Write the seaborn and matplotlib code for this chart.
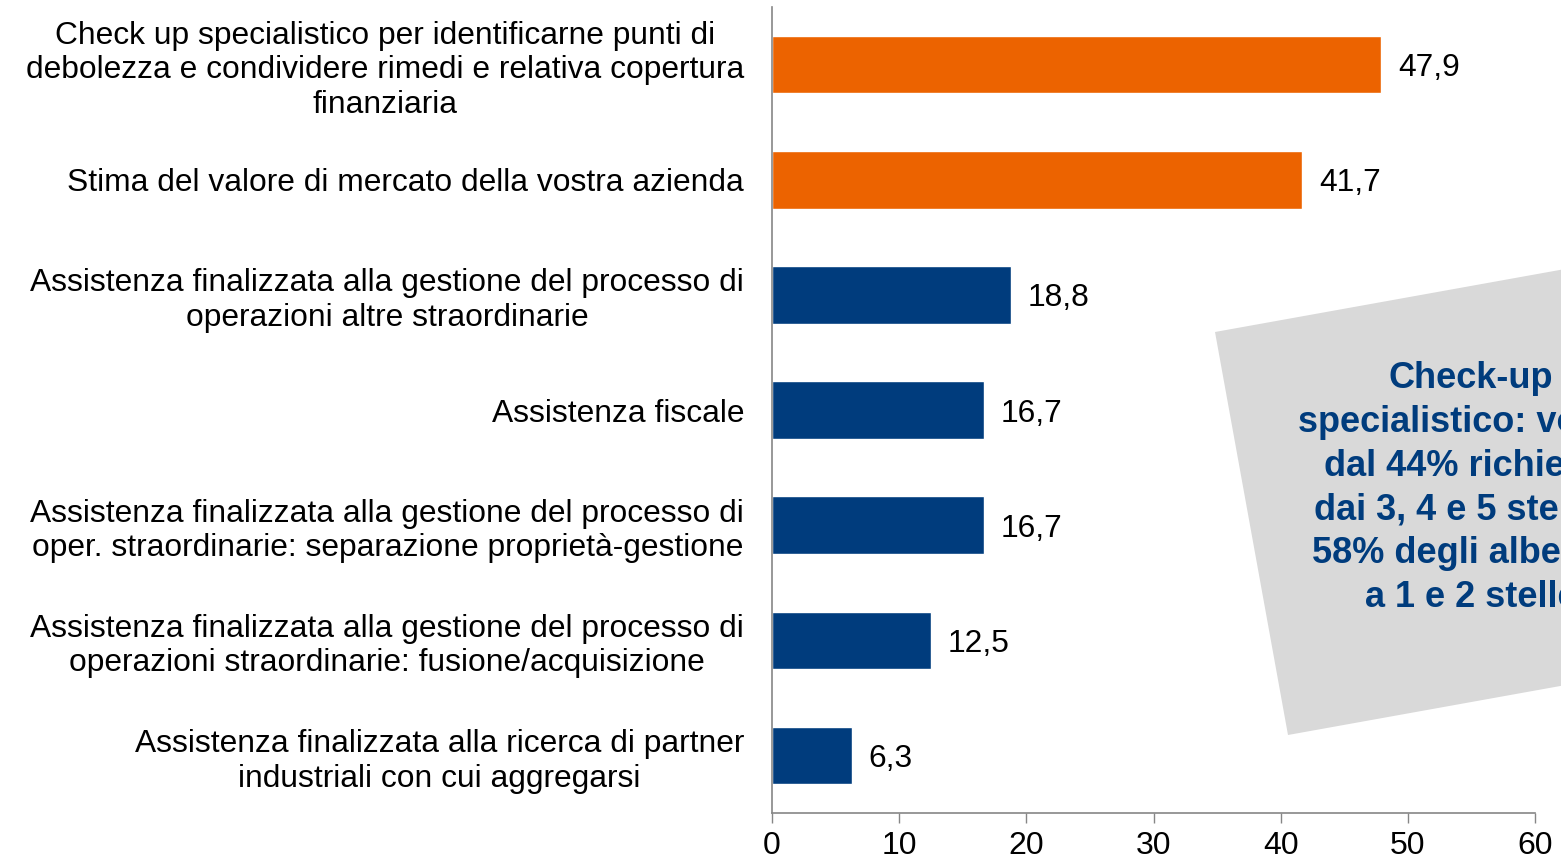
import matplotlib
matplotlib.use("Agg")
import matplotlib.pyplot as plt
import seaborn as sns
import pandas as pd
import numpy as np
from matplotlib.patches import Polygon

categories = [
    "Check up specialistico per identificarne punti di\ndebolezza e condividere rimedi e relativa copertura\nfinanziaria",
    "Stima del valore di mercato della vostra azienda",
    "Assistenza finalizzata alla gestione del processo di\noperazioni altre straordinarie",
    "Assistenza fiscale",
    "Assistenza finalizzata alla gestione del processo di\noper. straordinarie: separazione proprietà-gestione",
    "Assistenza finalizzata alla gestione del processo di\noperazioni straordinarie: fusione/acquisizione",
    "Assistenza finalizzata alla ricerca di partner\nindustriali con cui aggregarsi",
]
values = [47.9, 41.7, 18.8, 16.7, 16.7, 12.5, 6.3]
groups = ["top", "top", "other", "other", "other", "other", "other"]
value_labels = ["47,9", "41,7", "18,8", "16,7", "16,7", "12,5", "6,3"]
x_ticks = [0, 10, 20, 30, 40, 50, 60]
note_text = "Check-up\nspecialistico: voluto\ndal 44% richiesto\ndai 3, 4 e 5 stelle e\n58% degli alberghi\na 1 e 2 stelle"

ORANGE = "#EC6300"
NAVY = "#003C7D"

sns.set_style("white")
plt.rcParams['font.family'] = ['Liberation Sans', 'DejaVu Sans']

W, H = 1561, 866
fig = plt.figure(figsize=(W / 100, H / 100), dpi=100)
ax = fig.add_axes([772 / W, 1 - 813 / H, (1535 - 772) / W, (813 - 7) / H])

df = pd.DataFrame({"cat": categories, "val": values, "grp": groups})
sns.barplot(data=df, y="cat", x="val", hue="grp", orient="h",
            palette={"top": ORANGE, "other": NAVY}, width=0.5,
            dodge=False, legend=False, ax=ax, saturation=1)

ax.set_xlim(0, 60)
ax.set_ylim(len(categories) - 0.5, -0.5)
ax.set_xlabel("")
ax.set_ylabel("")
ax.set_xticks(x_ticks)
ax.set_xticklabels([str(t) for t in x_ticks],
                   family=['Liberation Sans Narrow', 'Liberation Sans', 'DejaVu Sans'],
                   fontsize=23)
ax.tick_params(axis="x", bottom=True, direction="out", length=7, width=1,
               color="#868686", pad=6, labelcolor="black")
ax.tick_params(axis="y", left=False, length=0, pad=20, labelsize=22.9,
               labelcolor="black")
for t in ax.get_yticklabels():
    t.set_multialignment("center")
    t.set_linespacing(1.2)

for s in ["top", "right"]:
    ax.spines[s].set_visible(False)
for s in ["left", "bottom"]:
    ax.spines[s].set_color("#868686")
    ax.spines[s].set_linewidth(1.2)

for i, (v, lab) in enumerate(zip(values, value_labels)):
    ax.annotate(lab, xy=(v, i), xytext=(12, 0), textcoords="offset points",
                ha="left", va="center_baseline", fontsize=22.9, color="black")

# grey rotated note box
theta = np.deg2rad(10.2)
tl = np.array([1215.0, 332.0])
bl = np.array([1288.0, 735.0])
wbox = 420.0
d = np.array([np.cos(theta), -np.sin(theta)])
tr = tl + wbox * d
br = bl + wbox * d
pts = [(p[0] / W, 1 - p[1] / H) for p in (tl, tr, br, bl)]
fig.add_artist(Polygon(pts, closed=True, transform=fig.transFigure,
                       facecolor="#D9D9D9", edgecolor="none", zorder=1))
fig.text(1471 / W, 1 - 488 / H, note_text, ha="center", va="center",
         multialignment="center", fontsize=26, fontweight="bold",
         color=NAVY, linespacing=1.32, zorder=2)

fig.savefig("out.png", dpi=100)
